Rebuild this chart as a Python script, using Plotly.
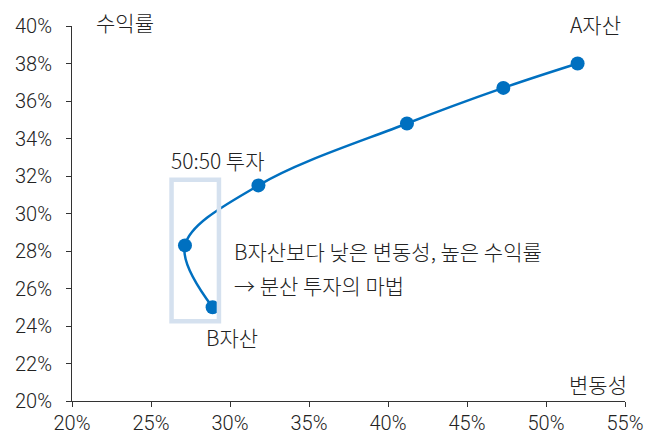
import plotly.graph_objects as go

# Data (volatility %, return %)
volatility = [28.9, 27.15, 31.8, 41.2, 47.3, 52.0]
returns = [25.0, 28.3, 31.5, 34.8, 36.7, 38.0]

x_ticks = [20, 25, 30, 35, 40, 45, 50, 55]
y_ticks = [20, 22, 24, 26, 28, 30, 32, 34, 36, 38, 40]

FONT = "Noto Sans CJK KR"
TICKFONT = "Roboto"
BLUE = "#0070C0"
TXT = "#222222"
FS = 21
TFS = 20
W = 300

fig = go.Figure()
fig.add_trace(go.Scatter(
    x=volatility, y=returns, mode="lines+markers",
    line=dict(color=BLUE, width=2.5, shape="spline", smoothing=1.0),
    marker=dict(color=BLUE, size=14),
    showlegend=False, hoverinfo="skip",
))

fig.add_shape(type="rect", xref="x", yref="y",
              x0=26.3, x1=29.3, y0=24.25, y1=31.8,
              line=dict(color="#D5E1EF", width=4.5), layer="above")

def ann(text, x, y, xanchor="left", yanchor="middle", xref="x", yref="y"):
    fig.add_annotation(text=text, x=x, y=y, xref=xref, yref=yref,
                       xanchor=xanchor, yanchor=yanchor, showarrow=False,
                       font=dict(family=FONT, size=FS, color=TXT, weight=W))

ann("수익률", 0.096, 1.011, xanchor="center", xref="paper", yref="paper")
ann("A자산", 0.946, 1.005, xanchor="center", xref="paper", yref="paper")
ann("변동성", 53.3, 20.9, xanchor="center")
ann("50:50 투자", 29.24, 32.85, xanchor="center")
ann("B자산보다 낮은 변동성, 높은 수익률", 30.1, 28.0)
ann("→ 분산 투자의 마법", 30.1, 26.19)
ann("B자산", 30.13, 23.41, xanchor="center")

axis_common = dict(showgrid=False, zeroline=False, showline=True, linecolor="#333333",
                   linewidth=1, ticks="outside", ticklen=5, tickcolor="#333333",
                   automargin=False,
                   tickfont=dict(family=TICKFONT, size=TFS, color=TXT, weight=W))

fig.update_layout(
    width=651, height=436,
    margin=dict(l=72, r=26, t=26, b=35),
    paper_bgcolor="white", plot_bgcolor="white",
    font=dict(family=FONT, size=FS, color=TXT, weight=W),
    xaxis=dict(range=[20, 55], tickvals=x_ticks, ticktext=[f"{v}%" for v in x_ticks],
               ticklabelstandoff=-1, **axis_common),
    yaxis=dict(range=[20, 40], tickvals=y_ticks, ticktext=[f"{v}%" for v in y_ticks],
               ticklabelstandoff=10, **axis_common),
)

fig.write_html("out.html")
